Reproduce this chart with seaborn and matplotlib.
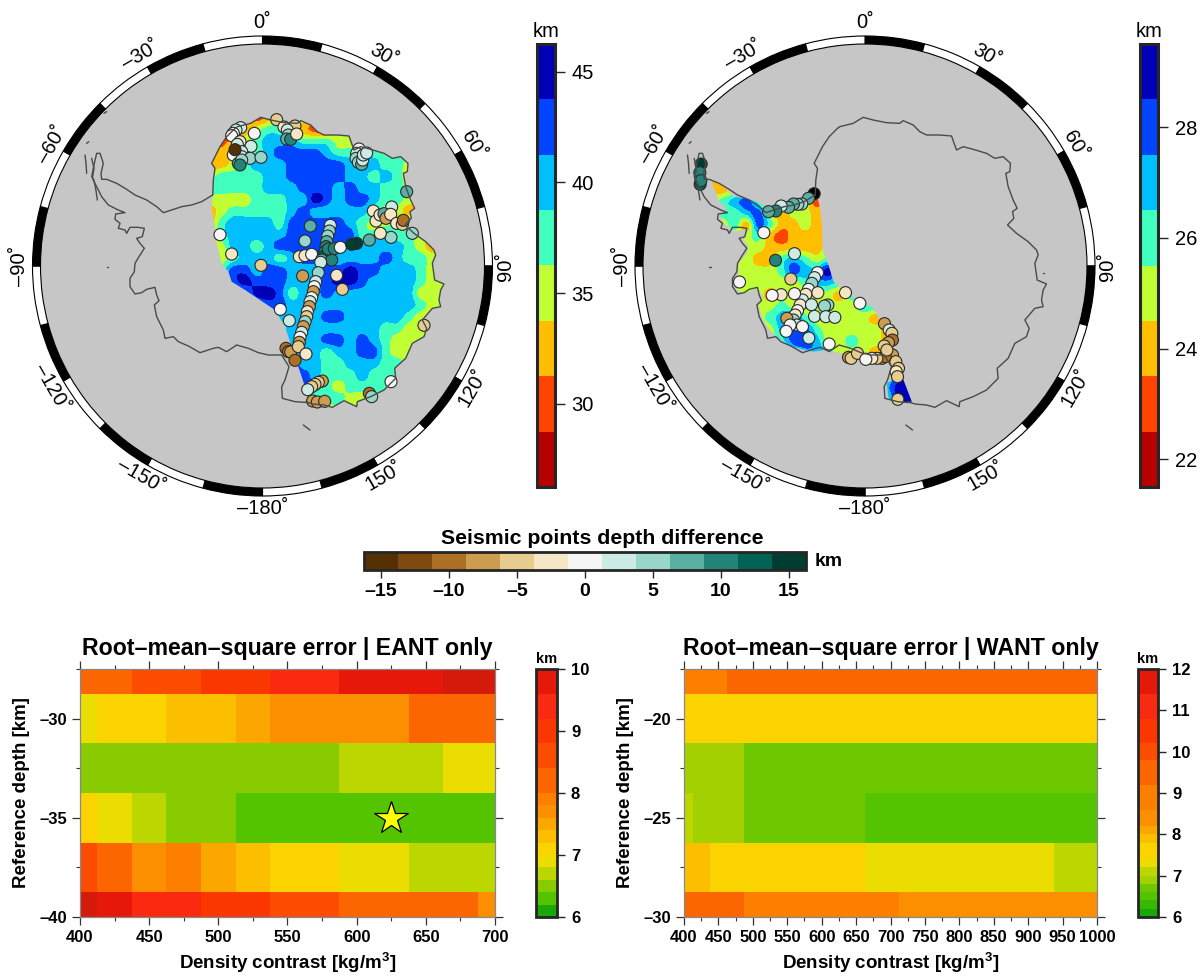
import numpy as np
import pandas as pd
import matplotlib
matplotlib.use('Agg')
import matplotlib.pyplot as plt
from matplotlib.cm import ScalarMappable
from matplotlib.colors import BoundaryNorm, ListedColormap
from matplotlib.patches import Polygon
import seaborn as sns

sns.set_style('white')
plt.rcParams['font.family'] = ['Liberation Sans', 'DejaVu Sans']
plt.rcParams['mathtext.fontset'] = 'custom'
plt.rcParams['mathtext.bf'] = 'Liberation Sans:bold'
plt.rcParams['mathtext.rm'] = 'Liberation Sans'
plt.rcParams['text.color'] = 'black'
plt.rcParams['axes.labelcolor'] = 'black'
plt.rcParams['xtick.labelcolor'] = 'black'
plt.rcParams['ytick.labelcolor'] = 'black'

W, H = 1204, 976

# map frame, east data. the west lists are read in a frame shifted by WEST_DX, WEST_DY
WEST_DX, WEST_DY = -352, 135
MAP_XLIM = (-502.5, 877.5)
MAP_YLIM = (1173, -207)

east_coast_x = [38, 40, 45, 35, 45, 60, 80, 105, 112, 152, 182, 212, 252, 292, 302, 332, 352, 372, 412, 447, 462, 482, 512, 552, 577, 602, 624, 622, 610, 617, 632, 644, 630, 634, 615, 642, 677, 702, 707, 697, 704, 732, 722, 717, 722, 697, 667, 680, 672, 637, 617, 584, 587, 552, 512, 472, 470, 432, 397, 372, 337, 317]
east_coast_y = [270, 225, 190, 175, 155, 125, 95, 70, 65, 55, 37, 45, 53, 55, 47, 60, 80, 90, 90, 93, 135, 125, 133, 145, 160, 155, 175, 200, 205, 245, 285, 310, 320, 340, 360, 385, 410, 435, 450, 475, 525, 537, 555, 585, 605, 610, 645, 670, 695, 715, 760, 790, 820, 855, 875, 890, 905, 887, 907, 900, 897, 890]
# margin towards the west part, closes the gridded area
east_margin_x = [325, 295, 275, 255, 225, 195, 135, 95, 85, 65, 50, 45, 35, 38]
east_margin_y = [875, 785, 725, 665, 615, 595, 555, 530, 500, 475, 415, 365, 315, 270]

west_coast_x = [38, 5, -25, -55, -85, -110, -130, -160, -195, -220, -250, -280, -295, -297, -290, -300, -310, -317, -325, -310, -295, -275, -245, -225, -253, -255, -240, -245, -225, -220, -210, -185, -167, -173, -190, -180, -167, -180, -195, -197, -210, -210, -195, -175, -160, -135, -130, -123, -137, -130, -110, -105, -80, -65, -35, 0, 40, 55, 80, 110, 145, 175, 205, 245, 267, 255, 245, 247, 285, 325]
west_coast_y = [270, 290, 300, 305, 315, 323, 305, 285, 270, 253, 235, 223, 223, 205, 175, 145, 145, 175, 215, 245, 275, 300, 315, 323, 327, 343, 355, 370, 375, 385, 367, 367, 370, 395, 400, 415, 430, 450, 475, 500, 520, 545, 567, 563, 553, 547, 570, 587, 600, 635, 675, 700, 695, 710, 723, 743, 730, 727, 740, 720, 730, 743, 750, 750, 785, 825, 845, 880, 890, 893]

island_x = [[-288, -280], [-340, -334], [310, 318, 330], [-280, -276], [722, 724], [-345, -342, -340], [-325, -318, -322], [-320, -313, -308]]
island_y = [[25, 20], [115, 110], [960, 966, 975], [485, 485], [505, 505], [150, 175, 205], [160, 190, 215], [220, 250, 285]]

# outline of the gridded west part
west_field_x = [395, 405, 410, 412, 430, 445, 480, 520, 560, 590, 610, 620, 640, 655, 680, 640, 610, 605, 640, 625, 600, 540, 470, 420, 385, 360, 320, 280, 250, 230, 220, 235, 215, 180, 155, 160, 160, 185, 190, 175, 190, 150, 115, 105, 125, 100, 90, 78, 110, 145, 185, 225, 250, 290, 340, 395]
west_field_y = [135, 175, 230, 300, 345, 395, 425, 455, 470, 520, 570, 610, 660, 690, 755, 760, 745, 700, 680, 640, 615, 610, 610, 600, 605, 600, 590, 565, 535, 500, 465, 440, 415, 430, 420, 370, 340, 310, 290, 270, 235, 245, 220, 195, 175, 150, 120, 90, 105, 140, 145, 160, 180, 170, 160, 135]

# gridded depth as colour-band numbers, one digit per node (0 is the shallowest band)
east_grid_x = list(range(30, 731, 35))
east_grid_y = list(range(40, 916, 35))
east_bands = [
    '222212333233333333333',
    '112234432113333333333',
    '112345554443333333333',
    '223445666654444444333',
    '223455566666555443333',
    '344445566666554543333',
    '444445556665655443333',
    '333344455765665443333',
    '234444456555554332333',
    '245555466666543344333',
    '345555566666644544333',
    '335545666666555554323',
    '334555456665555654433',
    '346656655566766555433',
    '456766655567765555433',
    '455577645565555555333',
    '555556655555555555433',
    '555555555566555554333',
    '555555455555555443333',
    '555555555566565433333',
    '555555555545566433333',
    '555555565544555443333',
    '555555566544454443333',
    '555555566543444433333',
    '555555565444333333333',
    '555555554433333333333',
]
west_grid_x = list(range(80, 676, 35))
west_grid_y = list(range(85, 786, 35))
west_bands = [
    '233333333333333333',
    '223333333233333333',
    '345643333133333333',
    '344563233233333333',
    '334264223233333333',
    '333342122233333333',
    '333332222233333333',
    '333322454343333333',
    '333333465574333333',
    '333333334554333333',
    '333332333332433333',
    '333333433333344333',
    '333334564333332333',
    '333333566433333223',
    '333333466533433223',
    '333333345543332333',
    '333333333333333357',
    '333333333333333467',
    '333333333333333577',
    '333333333333333477',
    '333333333333333477',
]

# seismic points: x, y, depth difference
east_pts_x = [122, 108, 100, 95, 163, 120, 112, 153, 125, 125, 100, 105, 150, 183, 115, 125, 120,
              230, 252, 285, 262, 265, 260, 272, 290,
              477, 470, 468, 475, 485, 488, 490, 500,
              620, 520, 575, 528, 540, 552, 558, 572, 590, 607, 610, 637, 573, 541, 508,
              60, 95, 183, 308, 410, 427,
              331, 315, 298, 315, 335,
              391, 388, 383, 380, 378, 375, 370, 365, 395, 385, 403, 421, 470, 455,
              362, 355, 347, 343, 340, 335, 330, 328, 322, 320, 315, 310, 305, 300, 298,
              258, 265, 272, 295, 318, 285, 241, 268, 672, 573, 508, 515,
              367, 355, 345, 335, 323, 338, 352, 374]
east_pts_y = [68, 75, 85, 92, 85, 110, 118, 124, 140, 155, 150, 134, 160, 157, 175, 165, 180,
              44, 66, 63, 75, 90, 102, 103, 87,
              132, 145, 160, 172, 178, 165, 150, 144,
              260, 318, 306, 348, 330, 326, 340, 328, 355, 358, 346, 385, 397, 385, 405,
              389, 447, 481, 513, 511, 553,
              363, 408, 455, 452, 448,
              361, 378, 393, 410, 425, 440, 455, 465, 465, 432, 431, 427, 415, 418,
              472, 503, 530, 545, 560, 578, 590, 605, 620, 635, 650, 665, 682, 697, 712,
              730, 740, 741, 725, 747, 766, 613, 647, 661, 830, 865, 875,
              828, 832, 838, 845, 854, 888, 891, 889]
east_pts_d = [2.5, 2.5, 0, 0, 0, -2.5, 2.5, 2.5, 2.5, 2.5, 0, -15, 5, 5, 7.5, 5, 10,
              -5, -2.5, -5, 2.5, 5, 7.5, 10, -2.5,
              0, 2.5, 5, 5, 7.5, 2.5, 2.5, 2.5,
              7.5, -2.5, 2.5, -2.5, -2.5, 7.5, -7.5, -2.5, -2.5, -5, -10, 5, 5, -2.5, 7.5,
              0, -2.5, -5, -7.5, -2.5, -5,
              7.5, 5, -2.5, -2.5, 0,
              2.5, 5, 5, 7.5, 10, 10, 12.5, 7.5, 10, 10, 10, 0, 15, 15,
              2.5, 5, 2.5, 0, -7.5, 0, 2.5, -7.5, -2.5, -5, 5, -7.5, 2.5, 0, -7.5,
              -10, -10, -7.5, -5, -2.5, -10, 0, 2.5, -5, 0, -10, 5,
              -7.5, -5, -5, -5, 2.5, -7.5, -7.5, -7.5]

west_pts_x = [48, 44, 45, 47, 387, 370, 350, 338, 325, 310, 288, 272, 250,
              236, 328, 271, 163, 317,
              397, 388, 380, 370, 362, 352, 345, 337, 330, 325,
              398, 481, 524, 379, 288, 261, 328,
              428, 418, 388, 422, 449,
              305, 335, 315, 352, 303, 371, 432,
              598, 612, 620, 622, 610, 597, 622, 632, 640, 633, 637, 638,
              490, 498, 517, 590, 600, 605, 575, 560, 542]
west_pts_y = [42, 68, 103, 92, 131, 145, 162, 163, 162, 172, 168, 183, 185,
              248, 311, 331, 396, 387,
              368, 383, 400, 418, 433, 450, 465, 482, 495, 510,
              428, 428, 460, 464, 434, 436, 431,
              465, 468, 499, 500, 502,
              505, 525, 525, 530, 544, 564, 582,
              521, 540, 550, 570, 578, 588, 615, 635, 655, 665, 680, 748,
              622, 625, 610, 625, 620, 600, 625, 625, 628]
west_pts_d = [15, 10, 12.5, 10, 17, 7.5, 5, 5, 7.5, 7.5, 2.5, 10, 7.5,
              0, 2.5, 10, 0, -5,
              0, 2.5, 5, 0, -2.5, 2.5, -2.5, 0, -2.5, 5,
              -2.5, -2.5, 0, 2.5, -2.5, 0, 0,
              5, 5, 2.5, 2.5, 2.5,
              -7.5, 2.5, 0, 0, 0, 2.5, 0,
              -7.5, 2.5, -5, -10, -7.5, -5, -7.5, -5, -5, -2.5, -5, -5,
              -7.5, -5, -5, -7.5, -10, -5, -5, -2.5, 0]

# rms tables
east_rho = [400, 425, 450, 475, 500, 525, 550, 575, 600, 625, 650, 675, 700]
east_ref = [-27.5, -30, -32.5, -35, -37.5, -40]
east_rms = [
    [8.2, 8.2, 8.6, 8.6, 9.0, 9.0, 9.4, 9.4, 9.8, 9.8, 9.8, 10.1, 10.1],
    [6.9, 7.1, 7.1, 7.3, 7.3, 7.5, 7.7, 7.7, 7.7, 7.7, 8.2, 8.2, 8.2],
    [6.5, 6.5, 6.5, 6.5, 6.5, 6.5, 6.5, 6.5, 6.7, 6.7, 6.7, 6.9, 6.9],
    [7.1, 6.9, 6.7, 6.5, 6.5, 6.3, 6.3, 6.3, 6.3, 6.3, 6.3, 6.3, 6.3],
    [8.6, 8.2, 7.7, 7.9, 7.5, 7.3, 7.1, 7.1, 6.9, 6.9, 6.7, 6.7, 6.7],
    [10.1, 9.8, 9.4, 9.4, 9.0, 9.0, 8.6, 8.6, 8.2, 8.2, 8.2, 8.2, 7.7],
]
want_rho = list(range(400, 1001, 25))
want_ref = [-17.5, -20, -22.5, -25, -27.5, -30]
want_rms = [
    [8.9] * 3 + [9.5] * 22,
    [7.6] * 25,
    [6.9] * 4 + [6.7] * 21,
    [7.1] + [6.9] * 3 + [6.7] * 7 + [6.5] * 14,
    [7.9] * 2 + [7.6] * 9 + [7.3] * 11 + [7.1] * 3,
    [9.5] * 4 + [8.9] * 9 + [8.4] * 12,
]
best_rho, best_ref = 625, -35

# colour tables
depth_colors = ['#b80000', '#ff4400', '#ffbf00', '#bfff33', '#40ffbf', '#00bfff', '#0044ff', '#0000b8']
east_levels = [26.25, 28.75, 31.25, 33.75, 36.25, 38.75, 41.25, 43.75, 46.25]
west_levels = [21.5, 22.5, 23.5, 24.5, 25.5, 26.5, 27.5, 28.5, 29.5]
diff_colors = ['#543005', '#7f4a0f', '#ad6f23', '#cc9c50', '#e6cd8f', '#f5e7c6', '#f5f5f5', '#cdebe5', '#99d6ca', '#5aafa3', '#228478', '#006356', '#003c30']
diff_levels = list(np.arange(-16.25, 16.3, 2.5))
rms_east_colors = ['#18a808', '#55c400', '#88cc00', '#bbd600', '#ecdd00', '#fbd400', '#fcbf00', '#fca700', '#fc8f00', '#fc7f00', '#fc6600', '#fb4c00', '#fb3700', '#fa2a10', '#e6180a']
rms_east_levels = [6, 6.2, 6.4, 6.6, 6.8, 7, 7.2, 7.4, 7.6, 7.8, 8, 8.4, 8.8, 9.2, 9.6, 10]
rms_want_colors = ['#18a808', '#38b800', '#55c400', '#6ec800', '#a2d000', '#bbd600', '#ecdd00', '#fbd400', '#fcbf00', '#fca700', '#fc8f00', '#fc7f00', '#fc6600', '#fb4c00', '#fb3700', '#fa2a10', '#e6180a']
rms_want_levels = [6, 6.2, 6.4, 6.6, 6.8, 7, 7.2, 7.4, 7.8, 8, 8.2, 8.6, 9.2, 9.8, 10.2, 10.8, 11.4, 12]

ring_labels = [(0, '0'), (30, '30'), (60, '60'), (90, '90'), (120, '120'), (150, '150'), (180, '–180'),
               (-150, '–150'), (-120, '–120'), (-90, '–90'), (-60, '–60'), (-30, '–30')]


def px_axes(fig, x0, y0, x1, y1, **kw):
    return fig.add_axes([x0 / W, 1 - y1 / H, (x1 - x0) / W, (y1 - y0) / H], **kw)


def dash(v):
    return f'–{abs(v)}' if v < 0 else f'{v}'


def band_depth(rows, levels):
    # node value is the middle of its colour band
    mids = [(a + b) / 2 for a, b in zip(levels[:-1], levels[1:])]
    return [[mids[int(c)] for c in r] for r in rows]


def draw_ring(fig, x0):
    ax = px_axes(fig, x0, 36, x0 + 460, 496, projection='polar')
    ax.set_theta_zero_location('N')
    ax.set_theta_direction(-1)
    ax.axis('off')
    ax.set_ylim(0, 230)
    ax.bar(0, 222, width=2 * np.pi, color='#c6c6c6', linewidth=0)
    step = np.radians(15)
    for i in range(24):
        ax.bar((i + 0.5) * step, 8, width=step, bottom=222, color='black' if i % 2 == 0 else 'white',
               edgecolor='black', linewidth=0.8, clip_on=False)
    for ang, lab in ring_labels:
        rot = -ang
        if abs(ang) > 90:
            rot = -ang + 180
        if ang == 90:
            rot = 90
        ax.text(np.radians(ang), 243, lab + '˚', rotation=rot, rotation_mode='anchor',
                ha='center', va='center', fontsize=14.5, clip_on=False)


def draw_map(fig, x0, grid_x, grid_y, depth, levels, field_x, field_y, pts_x, pts_y, pts_d):
    ax = px_axes(fig, x0, 36, x0 + 460, 496)
    ax.patch.set_alpha(0)
    cmap = ListedColormap(depth_colors).with_extremes(under=depth_colors[0], over=depth_colors[-1])
    norm = BoundaryNorm(levels, 8)
    dx, dy = (grid_x[1] - grid_x[0]) / 2, (grid_y[1] - grid_y[0]) / 2
    field = ax.imshow(depth, cmap=cmap, norm=norm, interpolation='catrom', interpolation_stage='data', aspect='auto',
                      extent=(grid_x[0] - dx, grid_x[-1] + dx, grid_y[-1] + dy, grid_y[0] - dy))
    clip = Polygon(np.column_stack([field_x, field_y]), transform=ax.transData, fill=False, linewidth=0)
    ax.add_patch(clip)
    field.set_clip_path(clip)
    ax.plot(east_coast_x, east_coast_y, color='#4a4a4a', lw=1.0)
    ax.plot(west_coast_x, west_coast_y, color='#4a4a4a', lw=1.0)
    for ix, iy in zip(island_x, island_y):
        ax.plot(ix, iy, color='#4a4a4a', lw=1.0)
    diff_cmap = ListedColormap(diff_colors).with_extremes(over='black')
    df = pd.DataFrame({'x': pts_x, 'y': pts_y, 'diff': pts_d})
    sns.scatterplot(data=df, x='x', y='y', hue='diff', palette=diff_cmap, hue_norm=BoundaryNorm(diff_levels, 13),
                    s=75, edgecolor='#2a2a2a', linewidth=0.8, legend=False, ax=ax)
    ax.set_xlim(*MAP_XLIM)
    ax.set_ylim(*MAP_YLIM)
    ax.axis('off')
    return cmap, norm


def depth_bar(fig, x0, cmap, norm, ticks):
    cax = px_axes(fig, x0, 44, x0 + 18, 487)
    cb = fig.colorbar(ScalarMappable(norm=norm, cmap=cmap), cax=cax, spacing='proportional', ticks=ticks)
    cb.minorticks_off()
    cb.outline.set_linewidth(2.2)
    cb.ax.tick_params(length=7, width=1, labelsize=14.5, pad=5)
    cax.text(0.5, 1.006, 'km', transform=cax.transAxes, ha='center', va='bottom', fontsize=14.5)


def draw_heat(fig, box, rho, ref, rms, colors, levels, title, xticks, yticks, over=None):
    ax = px_axes(fig, *box)
    cmap = ListedColormap(colors)
    if over:
        cmap = cmap.with_extremes(over=over)
    norm = BoundaryNorm(levels, len(colors))
    table = pd.DataFrame(rms, index=ref, columns=rho)
    sns.heatmap(table, cmap=cmap, norm=norm, cbar=False, xticklabels=False, yticklabels=False, ax=ax)
    xpos = lambda v: (v - rho[0]) / (rho[1] - rho[0]) + 0.5
    ypos = lambda v: (ref[0] - v) / (ref[0] - ref[1]) + 0.5
    ax.set_xlim(0.5, len(rho) - 0.5)
    ax.set_ylim(len(ref) - 0.5, 0.5)
    ax.set_xticks([xpos(v) for v in xticks])
    ax.set_xticklabels([str(v) for v in xticks], fontweight='bold', fontsize=12)
    ax.set_xticks([xpos(v) for v in rho], minor=True)
    ax.set_yticks([ypos(v) for v in yticks])
    ax.set_yticklabels([dash(v) for v in yticks], fontweight='bold', fontsize=12)
    ax.set_yticks([ypos(v) for v in ref], minor=True)
    ax.tick_params(which='major', length=6, width=0.9, color='#333333', bottom=True, top=True, left=True, right=True, pad=3)
    ax.tick_params(which='minor', length=3, width=0.8, color='#333333', bottom=True, top=True, left=True, right=True)
    for s in ax.spines.values():
        s.set_visible(True)
        s.set_color('#888888')
        s.set_linewidth(0.9)
    ax.set_xlabel(r'Density contrast [kg/m$^{\mathbf{3}}$]', fontweight='bold', fontsize=13.5, labelpad=4)
    ax.set_ylabel('Reference depth [km]', fontweight='bold', fontsize=13.5, labelpad=7)
    ax.set_title(title, fontweight='bold', fontsize=16.7, pad=10)
    return ax, cmap, norm, xpos, ypos


def rms_bar(fig, x0, x1, cmap, norm, ticks):
    cax = px_axes(fig, x0, 669, x1, 917)
    cb = fig.colorbar(ScalarMappable(norm=norm, cmap=cmap), cax=cax, spacing='proportional', ticks=ticks)
    cb.minorticks_off()
    cb.outline.set_linewidth(2.0)
    cb.ax.tick_params(length=6, width=1, labelsize=12, pad=4)
    for t in cb.ax.get_yticklabels():
        t.set_fontweight('bold')
    cax.text(0.5, 1.012, 'km', transform=cax.transAxes, ha='center', va='bottom', fontsize=10.5, fontweight='bold')


fig = plt.figure(figsize=(W / 100, H / 100), dpi=100)

draw_ring(fig, 32.5)
cm1, nm1 = draw_map(fig, 32.5, east_grid_x, east_grid_y, band_depth(east_bands, east_levels), east_levels,
                    east_coast_x + east_margin_x, east_coast_y + east_margin_y,
                    east_pts_x, east_pts_y, east_pts_d)
depth_bar(fig, 537, cm1, nm1, [30, 35, 40, 45])

draw_ring(fig, 635)
cm2, nm2 = draw_map(fig, 635, [v + WEST_DX for v in west_grid_x], [v + WEST_DY for v in west_grid_y],
                    band_depth(west_bands, west_levels), west_levels,
                    [v + WEST_DX for v in west_field_x], [v + WEST_DY for v in west_field_y],
                    [v + WEST_DX for v in west_pts_x], [v + WEST_DY for v in west_pts_y], west_pts_d)
depth_bar(fig, 1140, cm2, nm2, [22, 24, 26, 28])

# shared colour bar of the points
cax = px_axes(fig, 364, 552, 806, 570)
cb = fig.colorbar(ScalarMappable(norm=BoundaryNorm(diff_levels, 13), cmap=ListedColormap(diff_colors)), cax=cax,
                  orientation='horizontal', spacing='proportional', ticks=[-15, -10, -5, 0, 5, 10, 15])
cb.minorticks_off()
cb.outline.set_linewidth(2.0)
cb.ax.set_xticklabels([dash(v) for v in [-15, -10, -5, 0, 5, 10, 15]], fontweight='bold', fontsize=14)
cb.ax.tick_params(length=6, width=1, pad=3)
cax.set_title('Seismic points depth difference', fontweight='bold', fontsize=15.3, pad=6, x=0.54)
cax.text(1.02, 0.5, 'km', transform=cax.transAxes, ha='left', va='center', fontweight='bold', fontsize=14)

ax1, cm3, nm3, xp, yp = draw_heat(fig, (80, 669, 495, 917), east_rho, east_ref, east_rms, rms_east_colors, rms_east_levels,
                                  'Root–mean–square error | EANT only', list(range(400, 701, 50)), [-30, -35, -40], over='#d41a0a')
ax1.plot([xp(best_rho)], [yp(best_ref)], marker='*', ms=25, mfc='#ffff00', mec='black', mew=0.9)
rms_bar(fig, 536, 557, cm3, nm3, [6, 7, 8, 9, 10])

ax2, cm4, nm4, _, _ = draw_heat(fig, (684, 669, 1097, 917), want_rho, want_ref, want_rms, rms_want_colors, rms_want_levels,
                                'Root–mean–square error | WANT only', list(range(400, 1001, 50)), [-20, -25, -30])
rms_bar(fig, 1138, 1158, cm4, nm4, [6, 7, 8, 9, 10, 11, 12])

fig.savefig('out.png', dpi=100)
